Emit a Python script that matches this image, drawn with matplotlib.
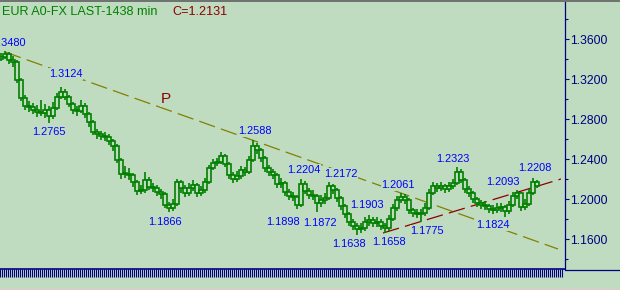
import numpy as np
import matplotlib
matplotlib.use("Agg")
import matplotlib.pyplot as plt
from matplotlib.lines import Line2D
from matplotlib.patches import Rectangle
from matplotlib.ticker import MultipleLocator, FixedLocator

plt.rcParams['font.family'] = ['Liberation Sans', 'DejaVu Sans']
plt.rcParams['lines.scale_dashes'] = False

# price bars (open is previous close)
closes = [1.3420, 1.3450, 1.3390, 1.3370, 1.3190, 1.3010, 1.2930, 1.2920, 1.2890, 1.2870,
          1.2860, 1.2890, 1.2830, 1.2910, 1.3020, 1.3070, 1.3020, 1.2950, 1.2890, 1.2880,
          1.2930, 1.2850, 1.2770, 1.2670, 1.2650, 1.2630, 1.2620, 1.2580, 1.2530, 1.2390,
          1.2250, 1.2250, 1.2240, 1.2170, 1.2080, 1.2090, 1.2190, 1.2120, 1.2110, 1.2070,
          1.2050, 1.1940, 1.1910, 1.1950, 1.2170, 1.2110, 1.2060, 1.2110, 1.2140, 1.2060,
          1.2090, 1.2170, 1.2310, 1.2360, 1.2370, 1.2430, 1.2350, 1.2240, 1.2200, 1.2230,
          1.2290, 1.2270, 1.2390, 1.2530, 1.2490, 1.2410, 1.2310, 1.2270, 1.2240, 1.2150,
          1.2160, 1.2070, 1.2030, 1.2020, 1.1940, 1.2150, 1.2080, 1.2040, 1.2030, 1.1960,
          1.1990, 1.2010, 1.2130, 1.2090, 1.2010, 1.1930, 1.1850, 1.1770, 1.1730, 1.1700,
          1.1710, 1.1770, 1.1790, 1.1760, 1.1770, 1.1730, 1.1710, 1.1800, 1.1910, 1.1990,
          1.2020, 1.1990, 1.1890, 1.1860, 1.1850, 1.1860, 1.1910, 1.2060, 1.2130, 1.2110,
          1.2130, 1.2100, 1.2130, 1.2160, 1.2270, 1.2190, 1.2100, 1.2060, 1.2000, 1.1960,
          1.1940, 1.1930, 1.1900, 1.1890, 1.1910, 1.1920, 1.1880, 1.1940, 1.2030, 1.2060,
          1.1920, 1.1950, 1.2060, 1.2170, 1.2131]
highs = [1.3460, 1.3480, 1.3470, 1.3430, 1.3390, 1.3210, 1.3040, 1.2980, 1.2960, 1.2940,
         1.2990, 1.2950, 1.2930, 1.2970, 1.3060, 1.3124, 1.3100, 1.3040, 1.2970, 1.2930,
         1.2990, 1.2960, 1.2870, 1.2790, 1.2700, 1.2680, 1.2670, 1.2650, 1.2600, 1.2550,
         1.2410, 1.2330, 1.2310, 1.2260, 1.2190, 1.2140, 1.2270, 1.2220, 1.2160, 1.2140,
         1.2100, 1.2070, 1.1970, 1.2000, 1.2200, 1.2190, 1.2140, 1.2160, 1.2190, 1.2160,
         1.2130, 1.2210, 1.2340, 1.2400, 1.2410, 1.2470, 1.2450, 1.2370, 1.2270, 1.2280,
         1.2330, 1.2320, 1.2430, 1.2588, 1.2560, 1.2510, 1.2430, 1.2340, 1.2300, 1.2260,
         1.2210, 1.2180, 1.2100, 1.2070, 1.2040, 1.2204, 1.2180, 1.2110, 1.2090, 1.2050,
         1.2040, 1.2060, 1.2172, 1.2150, 1.2110, 1.2030, 1.1950, 1.1870, 1.1800, 1.1760,
         1.1760, 1.1820, 1.1840, 1.1820, 1.1820, 1.1800, 1.1760, 1.1840, 1.1950, 1.2030,
         1.2061, 1.2050, 1.2010, 1.1910, 1.1900, 1.1900, 1.1960, 1.2100, 1.2170, 1.2160,
         1.2170, 1.2150, 1.2170, 1.2200, 1.2323, 1.2300, 1.2210, 1.2130, 1.2080, 1.2020,
         1.1990, 1.1980, 1.1950, 1.1940, 1.1960, 1.1960, 1.1940, 1.1980, 1.2070, 1.2093,
         1.2070, 1.2000, 1.2100, 1.2208, 1.2190]
lows = [1.3380, 1.3400, 1.3350, 1.3320, 1.3160, 1.2980, 1.2890, 1.2870, 1.2850, 1.2820,
        1.2830, 1.2810, 1.2765, 1.2800, 1.2890, 1.3000, 1.2990, 1.2920, 1.2850, 1.2830,
        1.2860, 1.2810, 1.2720, 1.2640, 1.2600, 1.2590, 1.2580, 1.2540, 1.2480, 1.2360,
        1.2200, 1.2210, 1.2190, 1.2120, 1.2040, 1.2050, 1.2060, 1.2090, 1.2070, 1.2030,
        1.2000, 1.1910, 1.1866, 1.1880, 1.1930, 1.2060, 1.2020, 1.2030, 1.2080, 1.2020,
        1.2030, 1.2060, 1.2150, 1.2290, 1.2330, 1.2350, 1.2320, 1.2200, 1.2160, 1.2170,
        1.2200, 1.2230, 1.2250, 1.2370, 1.2450, 1.2370, 1.2270, 1.2230, 1.2200, 1.2110,
        1.2110, 1.2030, 1.1990, 1.1980, 1.1898, 1.1920, 1.2050, 1.2000, 1.1990, 1.1872,
        1.1920, 1.1950, 1.1990, 1.2050, 1.1970, 1.1890, 1.1810, 1.1730, 1.1690, 1.1638,
        1.1660, 1.1680, 1.1730, 1.1720, 1.1720, 1.1690, 1.1658, 1.1680, 1.1780, 1.1880,
        1.1960, 1.1950, 1.1850, 1.1820, 1.1810, 1.1775, 1.1830, 1.1890, 1.2040, 1.2070,
        1.2080, 1.2060, 1.2070, 1.2100, 1.2140, 1.2160, 1.2060, 1.2020, 1.1960, 1.1920,
        1.1900, 1.1890, 1.1860, 1.1850, 1.1860, 1.1870, 1.1824, 1.1850, 1.1920, 1.2000,
        1.1880, 1.1890, 1.1930, 1.2040, 1.2110]
first_open = 1.3400

# swing labels: (bar index, price, text)
label_x = [1.9, 16.25, 12, 63.5, 41, 70.5, 75.75, 79.75, 85, 87, 91.5, 97, 99.25, 106.5, 113, 125.5, 123, 133.5]
label_y = [1.356, 1.325, 1.267, 1.268, 1.177, 1.177, 1.229, 1.176, 1.225, 1.155, 1.194, 1.157, 1.214, 1.168, 1.240, 1.217, 1.174, 1.231]
label_txt = ["1.3480", "1.3124", "1.2765", "1.2588", "1.1866", "1.1898", "1.2204", "1.1872", "1.2172",
             "1.1638", "1.1903", "1.1658", "1.2061", "1.1775", "1.2323", "1.2093", "1.1824", "1.2208"]

# trend lines
olive_x = [1, 139.25]
olive_y = [1.347, 1.150]
red_x = [95.5, 140]
red_y = [1.166, 1.220]

yticks = [1.16, 1.20, 1.24, 1.28, 1.32, 1.36]

BG = '#C0DCC0'
GREEN = '#008000'
NAVY = '#000080'

fig = plt.figure(figsize=(6.2, 2.9), dpi=100, facecolor=BG)
ax = fig.add_axes([0, 1 - 269 / 290, 565 / 620, 267 / 290])
ax.set_facecolor(BG)

n = len(closes)
xs = np.arange(n)
opens = [first_open] + closes[:-1]

ax.vlines(xs, lows, highs, color=GREEN, linewidth=1.2, zorder=3)
for i in range(n):
    lo = min(opens[i], closes[i])
    h = max(abs(closes[i] - opens[i]), 0.0010)
    ax.add_patch(Rectangle((xs[i] - 0.45, lo), 0.9, h, facecolor=BG,
                           edgecolor=GREEN, linewidth=1.2, zorder=4))

ax.plot(olive_x, olive_y, color='#808000', linewidth=0.9, dashes=(12, 4.5), zorder=2)
ax.plot(red_x, red_y, color='#8B0000', linewidth=0.9, dashes=(12, 4.5), zorder=2)

for x, y, t in zip(label_x, label_y, label_txt):
    ax.text(x, y, t, color='#0000FF', fontsize=7.9, ha='center', va='center', zorder=5,
            bbox=dict(facecolor=BG, edgecolor='none', pad=0.5))
ax.text(41.25, 1.300, "P", color='#8B0000', fontsize=11, ha='center', va='center', zorder=5,
        bbox=dict(facecolor=BG, edgecolor='none', pad=0.5))

ax.set_xlim(-0.25, 141)
ax.set_ylim(1.130, 1.397)

ax.yaxis.tick_right()
ax.yaxis.set_major_locator(FixedLocator(yticks))
ax.yaxis.set_minor_locator(MultipleLocator(0.02))
ax.set_yticklabels([f"{v:.4f}" for v in yticks])
ax.tick_params(axis='y', which='major', direction='out', length=3.2, width=0.8,
               color=NAVY, labelcolor=NAVY, labelsize=8.8, pad=0.5)
ax.tick_params(axis='y', which='minor', direction='out', length=2.3, width=0.8, color=NAVY)

ax.set_xticks(np.arange(-0.25, 140.3, 0.5))
ax.tick_params(axis='x', which='major', direction='out', length=5.4, width=0.8,
               color=NAVY, labelbottom=False)

for s in ['top', 'left']:
    ax.spines[s].set_visible(False)
ax.spines['right'].set_color(NAVY)
ax.spines['right'].set_linewidth(0.9)
ax.spines['bottom'].set_color(NAVY)
ax.spines['bottom'].set_linewidth(1.2)

fig.text(2 / 620, 1 - 12 / 290, "EUR A0-FX LAST-1438 min", color=GREEN, fontsize=9.1,
         ha='left', va='center')
fig.text(172 / 620, 1 - 12 / 290, "C=1.2131", color='#8B0000', fontsize=9.1,
         ha='left', va='center')

# frame pieces outside the axes
fig.add_artist(Line2D([565 / 620, 1], [1 - 269.5 / 290] * 2, color=NAVY, linewidth=0.9))
fig.add_artist(Line2D([0, 1], [1 - 0.5 / 290] * 2, color='#606060', linewidth=1.2))
fig.add_artist(Rectangle((0, 0), 1, 2.5 / 290, transform=fig.transFigure,
                         facecolor='#D4D0C8', edgecolor='none'))

fig.savefig("out.png", dpi=100, facecolor=BG)
